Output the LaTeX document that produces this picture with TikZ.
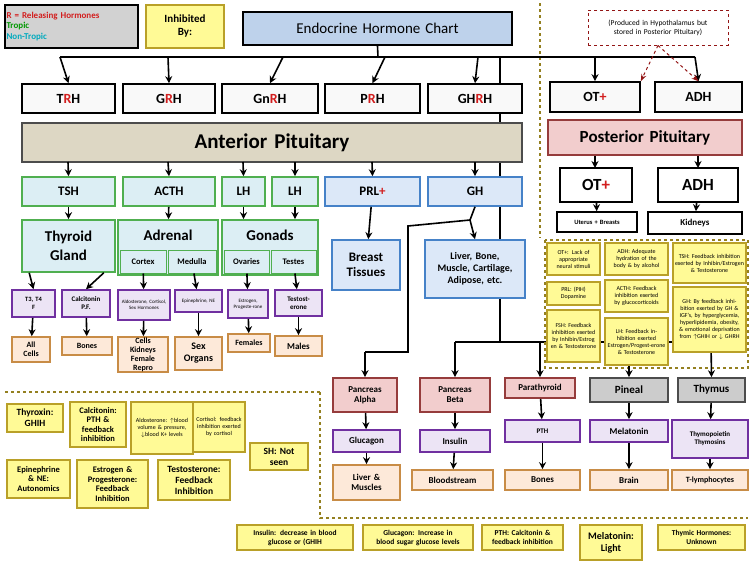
\documentclass[tikz,border=0pt]{standalone}
\usepackage{fontspec}
\setmainfont{Carlito}
\usetikzlibrary{arrows.meta}
\definecolor{ybor}{RGB}{185,160,40}\definecolor{yfil}{RGB}{255,250,150}
\definecolor{pbor}{RGB}{112,48,160}\definecolor{pfil}{RGB}{236,228,245}
\definecolor{obor}{RGB}{200,140,70}\definecolor{ofil}{RGB}{253,233,217}
\definecolor{gbor}{RGB}{80,175,80}\definecolor{gfil}{RGB}{220,238,244}
\definecolor{bbor}{RGB}{70,130,200}\definecolor{bfil}{RGB}{220,232,248}
\definecolor{kbor}{RGB}{150,60,60}\definecolor{kfil}{RGB}{242,205,205}
\definecolor{tfil}{RGB}{221,215,196}\definecolor{rr}{RGB}{210,30,30}
\definecolor{tb}{RGB}{190,210,235}\definecolor{tc}{RGB}{0,170,190}
\newcommand\B[7]{\node[#1,minimum width={(#5-#3)*1pt},minimum height={(#6-#4)*1pt},text width={(#5-#3-3)*1pt}] (#2) at ({(#3+#5)/2},{(#4+#6)/2}) {#7};}
\tikzset{
 bx/.style={draw,inner sep=0pt,align=center,line width=1.6pt},
 rh/.style={bx,draw=black,fill=white!95!gray,font=\bfseries\fontsize{14}{14}\selectfont},
 yb/.style={bx,draw=ybor,fill=yfil,font=\bfseries\fontsize{8.5}{9.5}\selectfont},
 ys/.style={bx,draw=ybor,fill=yfil,font=\fontsize{6}{7}\selectfont,line width=1.4pt},
 pb/.style={bx,draw=pbor,fill=pfil,font=\bfseries\fontsize{7}{8}\selectfont},
 ob/.style={bx,draw=obor,fill=ofil,font=\bfseries\fontsize{8}{9}\selectfont},
 gb/.style={bx,draw=gbor,fill=gfil,font=\bfseries\fontsize{13}{15}\selectfont},
 bb/.style={bx,draw=bbor,fill=bfil,font=\bfseries\fontsize{13}{15}\selectfont},
 kb/.style={bx,draw=kbor,fill=kfil,font=\bfseries\fontsize{9}{10}\selectfont},
 wb/.style={bx,draw=black,fill=white,font=\bfseries\fontsize{8}{9}\selectfont},
 sb/.style={bx,draw=gbor,line width=1pt,font=\bfseries\fontsize{8.5}{9}\selectfont},
 gl/.style={inner sep=0pt,font=\bfseries\fontsize{15}{17}\selectfont},
 ar/.style={line width=1.6pt,-{Stealth[length=7pt,width=7pt]}},
 ln/.style={line width=1.6pt},
 dsh/.style={dashed,line width=1.2pt,draw=ybor!80!black}
}
\begin{document}
\begin{tikzpicture}[x=1pt,y=-1pt]
\useasboundingbox (0,0) rectangle (750,562);
% right column line (behind boxes)
\coordinate (r1) at (500,57); \coordinate (r2) at (500,342); \coordinate (r3) at (711,342);
\coordinate (r0) at (455,342);
\draw[ln] (r1) -- (r2) -- (r3);
\draw[ln] (r0) -- (r2);
% header
\B{bx,fill=gray!35,draw=black,line width=1.4pt,font=\bfseries\fontsize{9}{10.5}\selectfont,align=left}{leg}{5}{5}{138}{48}{\textcolor{rr}{R = Releasing Hormones}\\\textcolor{green!60!black}{Tropic}\\\textcolor{tc}{Non-Tropic}}
\B{yb,font=\bfseries\fontsize{11}{13}\selectfont}{inh}{146}{5}{224}{48}{Inhibited\\By:}
\B{bx,fill=tb,draw=black,line width=2pt,font=\fontsize{15}{17}\selectfont}{title}{243}{12}{512}{45}{Endocrine Hormone Chart}
\B{bx,dashed,draw=rr!70!black,line width=1pt,fill=white,font=\fontsize{7.5}{9}\selectfont}{prod}{588}{10}{728}{45}{(Produced in Hypothalamus but stored in Posterior Pituitary)}
% dashed dividers
\draw[dsh] (540,3) -- (540,238);
\draw[dsh] (545,240) rectangle (748,368);
\draw[dsh] (5,392) -- (320,392);
\draw[dsh] (320,392) -- (320,518) -- (748,518);
% releasing hormones
\B{rh}{trh}{22}{84}{115}{113}{T\textcolor{rr}{R}H}
\B{rh}{grh}{123}{84}{215}{113}{G\textcolor{rr}{R}H}
\B{rh}{gnrh}{222}{84}{318}{113}{Gn\textcolor{rr}{R}H}
\B{rh}{prh}{325}{84}{420}{113}{P\textcolor{rr}{R}H}
\B{rh}{ghrh}{428}{84}{522}{113}{GH\textcolor{rr}{R}H}
\B{rh}{ot1}{550}{82}{640}{112}{OT\textcolor{rr}{+}}
\B{rh}{adh1}{655}{82}{742}{112}{ADH}
\B{bx,fill=tfil,draw=black!70,font=\bfseries\fontsize{21}{22}\selectfont}{ap}{22}{123}{522}{162}{Anterior Pituitary}
\B{bx,fill=kfil,draw=kbor,font=\bfseries\fontsize{17}{18}\selectfont}{pp}{548}{120}{742}{155}{Posterior Pituitary}
% top connectors
\coordinate (tl) at (60,57); \coordinate (tr) at (695,57); \coordinate (tm) at (378,57);
\draw[ln] (title.south) -- (tm);
\draw[ln] (tl) -- (tr);
\foreach \n/\x in {trh/60,grh/168,gnrh/283,prh/385,ghrh/478,ot1/595,adh1/695}{\draw[ar] (\x,57) -- (\n.north);}
\draw[dashed,line width=1pt,draw=rr!70!black,-{Stealth[length=7pt]}] (prod.south) -- (ot1.north east);
\draw[dashed,line width=1pt,draw=rr!70!black,-{Stealth[length=7pt]}] (prod.south) -- (adh1.north);
\draw[ar] (pp.south -| 595,0) -- (595,168);
\draw[ar] (pp.south -| 698,0) -- (698,168);
% second row
\B{gb}{tsh}{22}{177}{115}{206}{TSH}
\B{gb}{acth}{123}{177}{215}{206}{ACTH}
\B{gb}{lh1}{222}{177}{265}{206}{LH}
\B{gb}{lh2}{272}{177}{318}{206}{LH}
\B{bb}{prl}{325}{177}{420}{206}{PRL\textcolor{rr}{+}}
\B{bb}{gh}{428}{177}{522}{206}{GH}
\B{rh,fill=white,font=\bfseries\fontsize{17}{18}\selectfont}{ot2}{560}{168}{632}{202}{OT\textcolor{rr}{+}}
\B{rh,fill=white,font=\bfseries\fontsize{17}{18}\selectfont}{adh2}{658}{168}{738}{202}{ADH}
\B{wb,font=\bfseries\fontsize{6.5}{7}\selectfont}{ut}{557}{212}{637}{232}{Uterus + Breasts}
\B{wb,font=\bfseries\fontsize{9}{10}\selectfont}{kid}{648}{212}{742}{234}{Kidneys}
\foreach \n/\x in {tsh/68,acth/168,lh1/243,lh2/295,prl/372,gh/475}{\draw[ar] (\x,162) -- (\n.north);}
\draw[ar] (ot2) -- (ut); \draw[ar] (adh2) -- (kid);
% glands
\B{gb,font=\bfseries\fontsize{15}{19}\selectfont}{thy}{22}{220}{115}{272}{Thyroid\\Gland}
\B{gb}{adr}{118}{220}{218}{275}{}
\node[gl] (adrt) at (168,235) {Adrenal};
\B{sb}{cor}{120}{250}{166}{273}{Cortex}
\B{sb}{med}{168}{250}{216}{273}{Medulla}
\B{gb}{gon}{222}{220}{318}{275}{}
\node[gl] (gont) at (270,235) {Gonads};
\B{sb}{ova}{224}{250}{269}{273}{Ovaries}
\B{sb}{tes}{271}{250}{316}{273}{Testes}
\B{bb}{bre}{332}{240}{400}{290}{Breast\\Tissues}
\B{bb,font=\bfseries\fontsize{10}{12}\selectfont}{liv}{425}{240}{525}{298}{Liver, Bone,\\Muscle, Cartilage,\\Adipose, etc.}
\draw[ar] (tsh) -- (thy); \draw[ar] (acth) -- (adr); \draw[ar] (lh1) -- (gon.north -| lh1); \draw[ar] (lh2) -- (gon.north -| lh2);
\draw[ar] (prl) -- (bre);
\coordinate (g1) at (470,220); \coordinate (g2) at (408,226); \coordinate (g3) at (408,352); \coordinate (g4) at (365,352);
\draw[ar] (gh.south) -- (g1) -- (liv.north);
\draw[ln] (g1) -- (g2) -- (g3) -- (g4);
% purple row
\B{pb,font=\bfseries\fontsize{6.5}{7.5}\selectfont}{t3}{12}{290}{55}{317}{T3, T4\\F}
\B{pb}{cal}{62}{290}{110}{317}{Calcitonin\\P.F.}
\B{pb,font=\fontsize{5}{6}\selectfont}{ald}{118}{290}{170}{320}{Aldosterone, Cortisol, Sex Hormones}
\B{pb,font=\fontsize{5}{6}\selectfont}{epi}{175}{290}{222}{312}{Epinephrine, NE}
\B{pb,font=\fontsize{5}{6}\selectfont}{est}{228}{290}{268}{318}{Estrogen, Progeste-rone}
\B{pb}{tst}{275}{290}{322}{316}{Testost-\\erone}
\draw[ar] (thy.south west) ++(8,0) -- (t3.north);
\draw[ar] (thy.south east) ++(-12,0) -- (cal.north);
\draw[ar] (cor) -- (ald); \draw[ar] (med) -- (epi); \draw[ar] (ova) -- (est); \draw[ar] (tes) -- (tst);
% orange row
\B{ob}{allc}{12}{337}{50}{362}{All\\Cells}
\B{ob}{bon1}{62}{337}{112}{355}{Bones}
\B{ob}{ckf}{118}{337}{168}{372}{Cells\\Kidneys\\Female\\Repro}
\B{ob,font=\bfseries\fontsize{10}{12}\selectfont}{sexo}{175}{337}{222}{370}{Sex\\Organs}
\B{ob}{fem}{228}{334}{270}{352}{Females}
\B{ob,font=\bfseries\fontsize{9}{10}\selectfont}{mal}{275}{336}{322}{356}{Males}
\foreach \a/\b in {t3/allc,cal/bon1,ald/ckf,epi/sexo,est/fem,tst/mal}{\draw[ar] (\a) -- (\b);}
% lower glands
\B{kb}{pa}{333}{378}{397}{412}{Pancreas\\Alpha}
\B{kb}{pbeta}{420}{378}{490}{412}{Pancreas\\Beta}
\B{kb}{para}{505}{378}{575}{398}{Parathyroid}
\B{kb,fill=gray!40,draw=gray!60!black,font=\bfseries\fontsize{11}{12}\selectfont}{pin}{590}{378}{668}{402}{Pineal}
\B{kb,fill=gray!40,draw=gray!60!black,font=\bfseries\fontsize{11}{12}\selectfont}{thm}{678}{378}{745}{402}{Thymus}
\draw[ar] (g4) -- (pa.north -| g4);
\draw[ar] (r0) -- (pbeta.north -| r0);
\foreach \n/\x in {para/540,pin/629,thm/711}{\draw[ar] (\x,342) -- (\n.north);}
\B{pb,font=\bfseries\fontsize{9}{10}\selectfont}{glu}{333}{430}{400}{452}{Glucagon}
\B{pb,font=\bfseries\fontsize{9}{10}\selectfont}{ins}{420}{430}{490}{452}{Insulin}
\B{pb}{pth}{505}{420}{580}{442}{PTH}
\B{pb,font=\bfseries\fontsize{9}{10}\selectfont}{mel}{590}{420}{668}{442}{Melatonin}
\B{pb}{thp}{672}{420}{748}{458}{Thymopoietin\\Thymosins}
\B{ob,font=\bfseries\fontsize{9}{10}\selectfont}{lm}{333}{465}{400}{500}{Liver \&\\Muscles}
\B{ob,font=\bfseries\fontsize{9}{10}\selectfont}{bls}{412}{470}{493}{490}{Bloodstream}
\B{ob,font=\bfseries\fontsize{9}{10}\selectfont}{bon2}{505}{470}{580}{490}{Bones}
\B{ob,font=\bfseries\fontsize{9}{10}\selectfont}{brn}{590}{470}{668}{490}{Brain}
\B{ob,font=\bfseries\fontsize{8}{9}\selectfont}{tly}{672}{470}{748}{490}{T-lymphocytes}
\foreach \a/\b in {pa/glu,pbeta/ins,para/pth,pin/mel,thm/thp,glu/lm,ins/bls,pth/bon2,mel/brn,thp/tly}{\draw[ar] (\a) -- (\b);}
% inhibitors right
\B{ys}{i1}{547}{243}{600}{275}{OT+: Lack of appropriate neural stimuli}
\B{ys}{i2}{605}{243}{668}{275}{ADH: Adequate hydration of the body \& by alcohol}
\B{ys}{i3}{673}{243}{746}{283}{TSH: Feedback inhibition exerted by Inhibin/Estrogen \& Testosterone}
\B{ys}{i4}{547}{282}{600}{305}{PRL: (PIH) Dopamine}
\B{ys}{i5}{605}{280}{668}{312}{ACTH: Feedback inhibition exerted by glucocorticoids}
\B{ys}{i6}{673}{287}{746}{352}{GH: By feedback inhibition exerted by GH \& IGF's, by hyperglycemia, hyperlipidemia, obesity, \& emotional deprivation from $\uparrow$GHIH or $\downarrow$ GHRH}
\B{ys}{i7}{547}{310}{600}{362}{FSH: Feedback inhibition exerted by Inhibin/Estrog en \& Testosterone}
\B{ys}{i8}{605}{318}{668}{365}{LH: Feedback inhibition exerted Estrogen/Progest-erone \& Testosterone}
% inhibitors bottom left
\B{yb,font=\bfseries\fontsize{9.5}{11}\selectfont}{j1}{7}{404}{63}{432}{Thyroxin:\\GHIH}
\B{yb}{j2}{70}{402}{126}{447}{Calcitonin:\\PTH \&\\feedback\\inhibition}
\B{ys}{j3}{131}{402}{193}{454}{Aldosterone: $\uparrow$blood volume \& pressure, $\downarrow$blood K+ levels}
\B{ys}{j4}{193}{402}{245}{452}{Cortisol: feedback inhibition exerted by cortisol}
\B{yb,font=\bfseries\fontsize{9.5}{11}\selectfont}{j5}{250}{443}{308}{470}{SH: Not\\seen}
\B{yb}{j6}{7}{460}{70}{498}{Epinephrine\\\& NE:\\Autonomics}
\B{yb}{j7}{77}{460}{148}{508}{Estrogen \&\\Progesterone:\\Feedback\\Inhibition}
\B{yb,font=\bfseries\fontsize{9.5}{11}\selectfont}{j8}{158}{460}{230}{500}{Testosterone:\\Feedback\\Inhibition}
% bottom row
\B{yb,font=\bfseries\fontsize{7.5}{9}\selectfont}{k1}{237}{525}{353}{550}{Insulin: decrease in blood\\glucose or (GHIH}
\B{yb,font=\bfseries\fontsize{7.5}{9}\selectfont}{k2}{363}{525}{473}{550}{Glucagon: Increase in\\blood sugar glucose levels}
\B{yb,font=\bfseries\fontsize{7.5}{9}\selectfont}{k3}{482}{525}{563}{550}{PTH: Calcitonin \&\\feedback inhibition}
\B{yb,font=\bfseries\fontsize{10}{12}\selectfont}{k4}{580}{525}{642}{560}{Melatonin:\\Light}
\B{yb,font=\bfseries\fontsize{7.5}{9}\selectfont}{k5}{658}{525}{745}{550}{Thymic Hormones:\\Unknown}
\end{tikzpicture}
\end{document}
